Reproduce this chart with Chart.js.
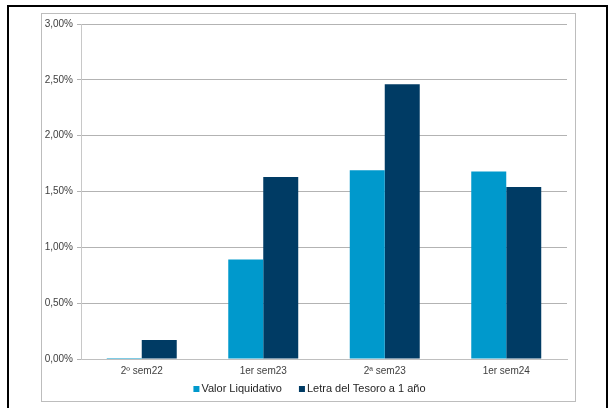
<!DOCTYPE html>
<html>
<head>
<meta charset="utf-8">
<script src="https://cdn.jsdelivr.net/npm/chart.js@4/dist/chart.umd.min.js"></script>
<style>
  html, body { margin: 0; padding: 0; background: #ffffff; width: 610px; height: 408px; overflow: hidden; }
  #outer { position: absolute; left: 7px; top: 5px; width: 597px; height: 420px; border: 2px solid #000000; box-sizing: content-box; }
  #frame { position: absolute; left: 41px; top: 13px; width: 533px; height: 387px; border: 1px solid #bdbdbd; }
  #c { position: absolute; left: 0; top: 0; }
</style>
</head>
<body>
<div id="outer"></div>
<div id="frame"><canvas id="c" width="533" height="387"></canvas></div>
<script>
const categories = ['2\u00ba sem22', '1er sem23', '2\u00aa sem23', '1er sem24'];
const valorLiquidativo = [0.01, 0.89, 1.69, 1.68];
const letraTesoro = [0.17, 1.63, 2.46, 1.54];
const seriesNames = ['Valor Liquidativo', 'Letra del Tesoro a 1 a\u00f1o'];
const yTicks = { min: 0, max: 3, step: 0.5 };

const FONT = "'Liberation Sans', Arial, sans-serif";

const customLegend = {
  id: 'customLegend',
  afterDraw(chart) {
    const ctx = chart.ctx;
    const ds = chart.data.datasets;
    ctx.save();
    ctx.font = '11px ' + FONT;
    ctx.textBaseline = 'middle';
    const box = 6, gapBoxText = 2, gapItems = 17;
    const widths = ds.map(d => box + gapBoxText + ctx.measureText(d.label).width);
    const total = widths.reduce((a, b) => a + b, 0) + gapItems * (ds.length - 1);
    let x = (chart.width - total) / 2 + 1;
    const y = 375;
    ds.forEach((d, i) => {
      ctx.fillStyle = d.backgroundColor;
      ctx.fillRect(x, y - box / 2, box, box);
      ctx.fillStyle = '#1f1f1f';
      ctx.fillText(d.label, x + box + gapBoxText, y);
      x += widths[i] + gapItems;
    });
    ctx.restore();
  }
};

new Chart(document.getElementById('c'), {
  type: 'bar',
  data: {
    labels: categories,
    datasets: [
      { label: seriesNames[0], data: valorLiquidativo, backgroundColor: '#0099cc', borderWidth: 0 },
      { label: seriesNames[1], data: letraTesoro, backgroundColor: '#003b64', borderWidth: 0 }
    ]
  },
  options: {
    responsive: false,
    animation: false,
    events: [],
    layout: { padding: { top: 8, right: 8, left: 0, bottom: 0 } },
    datasets: { bar: { categoryPercentage: 0.576, barPercentage: 1.0 } },
    plugins: { legend: { display: false }, tooltip: { enabled: false } },
    scales: {
      x: {
        grid: { display: false, drawTicks: false },
        border: { display: true, color: '#bfbfbf', width: 1 },
        ticks: { color: '#404040', font: { family: FONT, size: 10 }, padding: 6 },
        afterFit(s) { s.height = 42; }
      },
      y: {
        min: yTicks.min, max: yTicks.max,
        grid: { color: '#b3b3b3', lineWidth: 1, tickLength: 4, tickColor: '#b3b3b3' },
        border: { display: true, color: '#c8c8c8', width: 1 },
        ticks: {
          stepSize: yTicks.step,
          color: '#404040',
          font: { family: FONT, size: 10 },
          padding: 4,
          callback: v => v.toFixed(2).replace('.', ',') + '%'
        },
        afterFit(s) { s.width = 39; }
      }
    }
  },
  plugins: [customLegend]
});
</script>
</body>
</html>
